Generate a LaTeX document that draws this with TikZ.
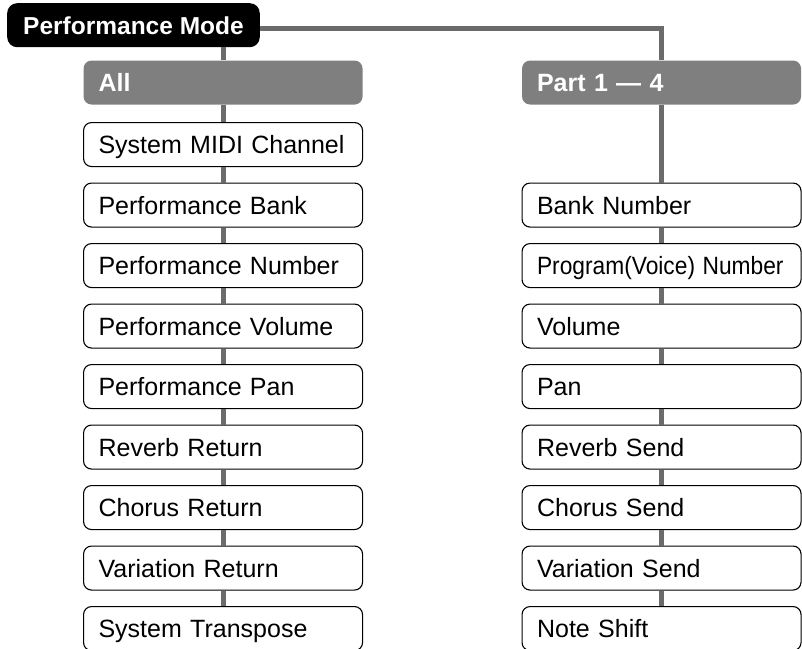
\documentclass[tikz,border=0pt]{standalone}
\usepackage{fontspec}
\setmainfont{Liberation Sans}
\usepackage{graphicx}
\usepackage{xcolor}
\definecolor{headgrey}{HTML}{7F7F7F}
\definecolor{linkgrey}{HTML}{6B6B6B}
\begin{document}
\begin{tikzpicture}[x=1pt, y=-1pt,
        item/.style={draw=black, line width=1.1pt, fill=white, rounded corners=8pt,
            anchor=north west, inner xsep=15pt, inner ysep=0pt, text width=249pt,
            align=left, minimum height=44pt, text height=18pt, text depth=0pt,
            font=\fontsize{25}{30}\selectfont},
        head/.style={item, draw=none, fill=headgrey, text=white,
            font=\fontsize{25}{30}\selectfont\bfseries},
        mode/.style={fill=black, text=white, rounded corners=10pt, anchor=north west,
            inner xsep=16pt, inner ysep=0pt, minimum width=249pt, minimum height=44pt,
            text height=18pt, text depth=0pt, align=left,
            font=\fontsize{24.5}{30}\selectfont\bfseries},
        link/.style={draw=linkgrey, line width=5pt}]

    \useasboundingbox (0,0) rectangle (802,648);

    \node[mode] (pm) at (7,3) {Performance Mode\hfill};

    % left column
    \node[head] (all)   at (83,60)    {All};
    \node[item] (sys)   at (83,122)   {System MIDI Channel};
    \node[item] (pbank) at (83,182.5) {Performance Bank};
    \node[item] (pnum)  at (83,243)   {Performance Number};
    \node[item] (pvol)  at (83,303.5) {Performance Volume};
    \node[item] (ppan)  at (83,364)   {Performance Pan};
    \node[item] (rret)  at (83,424.5) {Reverb Return};
    \node[item] (cret)  at (83,485)   {Chorus Return};
    \node[item] (vret)  at (83,545.5) {Variation Return};
    \node[item] (trans) at (83,606)   {System Transpose};

    % right column
    \node[head] (part)  at (521.5,60)    {Part 1 --- 4};
    \node[item] (bnum)  at (521.5,182.5) {Bank Number};
    \node[item] (prog)  at (521.5,243)   {\scalebox{0.91}[1]{Program(Voice) Number}};
    \node[item] (vol)   at (521.5,303.5) {Volume};
    \node[item] (pan)   at (521.5,364)   {Pan};
    \node[item] (rsend) at (521.5,424.5) {Reverb Send};
    \node[item] (csend) at (521.5,485)   {Chorus Send};
    \node[item] (vsend) at (521.5,545.5) {Variation Send};
    \node[item] (shift) at (521.5,606)   {Note Shift};

    \draw[link] (pm.south -| all.north) -- (all.north);
    \draw[link] ([yshift=-3pt]pm.east) -| (part.north);
    \draw[link] (part.south) -- (bnum.north);

    \foreach \a/\b in {all/sys, sys/pbank, pbank/pnum, pnum/pvol, pvol/ppan,
                       ppan/rret, rret/cret, cret/vret, vret/trans,
                       bnum/prog, prog/vol, vol/pan, pan/rsend, rsend/csend,
                       csend/vsend, vsend/shift}
        \draw[link] (\a.south) -- (\b.north);

\end{tikzpicture}
\end{document}
